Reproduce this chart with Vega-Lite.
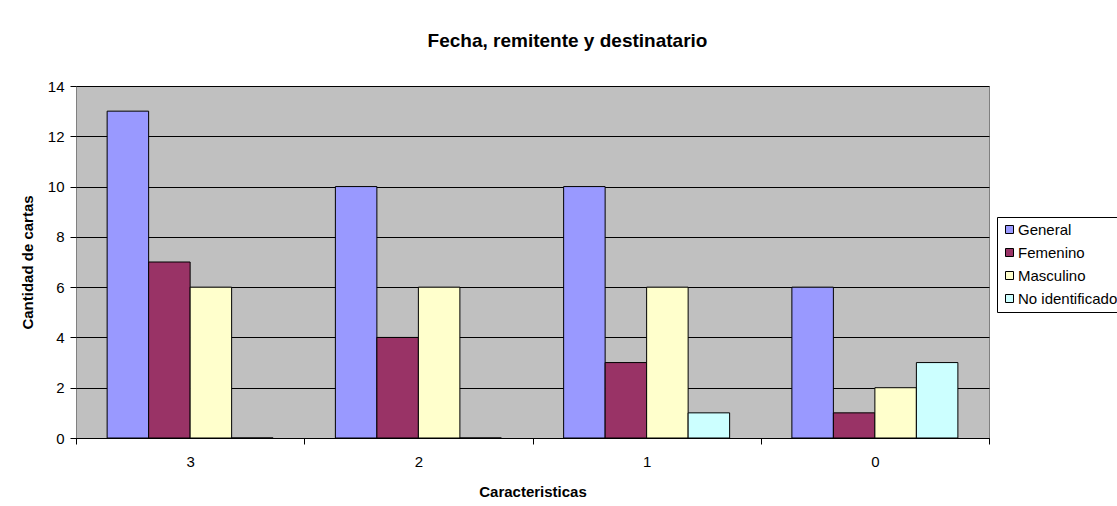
{
  "$schema": "https://vega.github.io/schema/vega-lite/v6.json",
  "width": 913,
  "height": 352,
  "autosize": "none",
  "padding": {"left": 76, "top": 86, "right": 128, "bottom": 68},
  "background": "white",
  "title": {
    "text": "Fecha, remitente y destinatario",
    "font": "Liberation Sans",
    "fontSize": 19,
    "fontWeight": "bold",
    "color": "black",
    "anchor": "middle",
    "dx": 35,
    "offset": 28
  },
  "data": {
    "values": [
      {"caracteristica": "3", "serie": "General", "cartas": 13},
      {"caracteristica": "3", "serie": "Femenino", "cartas": 7},
      {"caracteristica": "3", "serie": "Masculino", "cartas": 6},
      {"caracteristica": "3", "serie": "No identificado", "cartas": 0},
      {"caracteristica": "2", "serie": "General", "cartas": 10},
      {"caracteristica": "2", "serie": "Femenino", "cartas": 4},
      {"caracteristica": "2", "serie": "Masculino", "cartas": 6},
      {"caracteristica": "2", "serie": "No identificado", "cartas": 0},
      {"caracteristica": "1", "serie": "General", "cartas": 10},
      {"caracteristica": "1", "serie": "Femenino", "cartas": 3},
      {"caracteristica": "1", "serie": "Masculino", "cartas": 6},
      {"caracteristica": "1", "serie": "No identificado", "cartas": 1},
      {"caracteristica": "0", "serie": "General", "cartas": 6},
      {"caracteristica": "0", "serie": "Femenino", "cartas": 1},
      {"caracteristica": "0", "serie": "Masculino", "cartas": 2},
      {"caracteristica": "0", "serie": "No identificado", "cartas": 3}
    ]
  },
  "mark": {"type": "bar", "stroke": "black", "strokeWidth": 1, "opacity": 1},
  "encoding": {
    "x": {
      "field": "caracteristica",
      "type": "nominal",
      "sort": ["3", "2", "1", "0"],
      "scale": {"paddingInner": 0, "paddingOuter": 0},
      "axis": {
        "title": "Caracteristicas",
        "titleFont": "Liberation Sans",
        "titleFontSize": 15,
        "titleFontWeight": "bold",
        "titleColor": "black",
        "titlePadding": 15,
        "labelFont": "Liberation Sans",
        "labelFontSize": 15,
        "labelColor": "black",
        "labelAngle": 0,
        "labelPadding": 10,
        "tickBand": "extent",
        "tickSize": 6,
        "tickColor": "black",
        "domainColor": "black",
        "grid": false
      }
    },
    "xOffset": {
      "field": "serie",
      "type": "nominal",
      "sort": ["General", "Femenino", "Masculino", "No identificado"],
      "scale": {"paddingInner": 0, "paddingOuter": 0.75}
    },
    "y": {
      "field": "cartas",
      "type": "quantitative",
      "scale": {"domain": [0, 14], "nice": false},
      "axis": {
        "title": "Cantidad de cartas",
        "titleFont": "Liberation Sans",
        "titleFontSize": 15,
        "titleFontWeight": "bold",
        "titleColor": "black",
        "titlePadding": 12,
        "values": [0, 2, 4, 6, 8, 10, 12, 14],
        "labelFont": "Liberation Sans",
        "labelFontSize": 15,
        "labelColor": "black",
        "labelPadding": 6,
        "tickSize": 6,
        "tickColor": "black",
        "domain": false,
        "grid": true,
        "gridColor": "black",
        "gridWidth": 1,
        "gridOpacity": 1
      }
    },
    "color": {
      "field": "serie",
      "type": "nominal",
      "sort": ["General", "Femenino", "Masculino", "No identificado"],
      "scale": {
        "domain": ["General", "Femenino", "Masculino", "No identificado"],
        "range": ["#9999FF", "#993366", "#FFFFCC", "#CCFFFF"]
      },
      "legend": {
        "title": null,
        "orient": "none",
        "legendX": 921,
        "legendY": 131,
        "strokeColor": "black",
        "fillColor": "white",
        "padding": 5,
        "symbolType": "square",
        "symbolSize": 64,
        "symbolStrokeColor": "black",
        "symbolStrokeWidth": 1,
        "symbolOpacity": 1,
        "labelFont": "Liberation Sans",
        "labelFontSize": 15,
        "labelColor": "black",
        "labelOffset": 1,
        "rowPadding": 7,
        "labelLimit": 300
      }
    }
  },
  "config": {
    "view": {"fill": "#C0C0C0", "stroke": "#808080", "strokeWidth": 1}
  }
}
